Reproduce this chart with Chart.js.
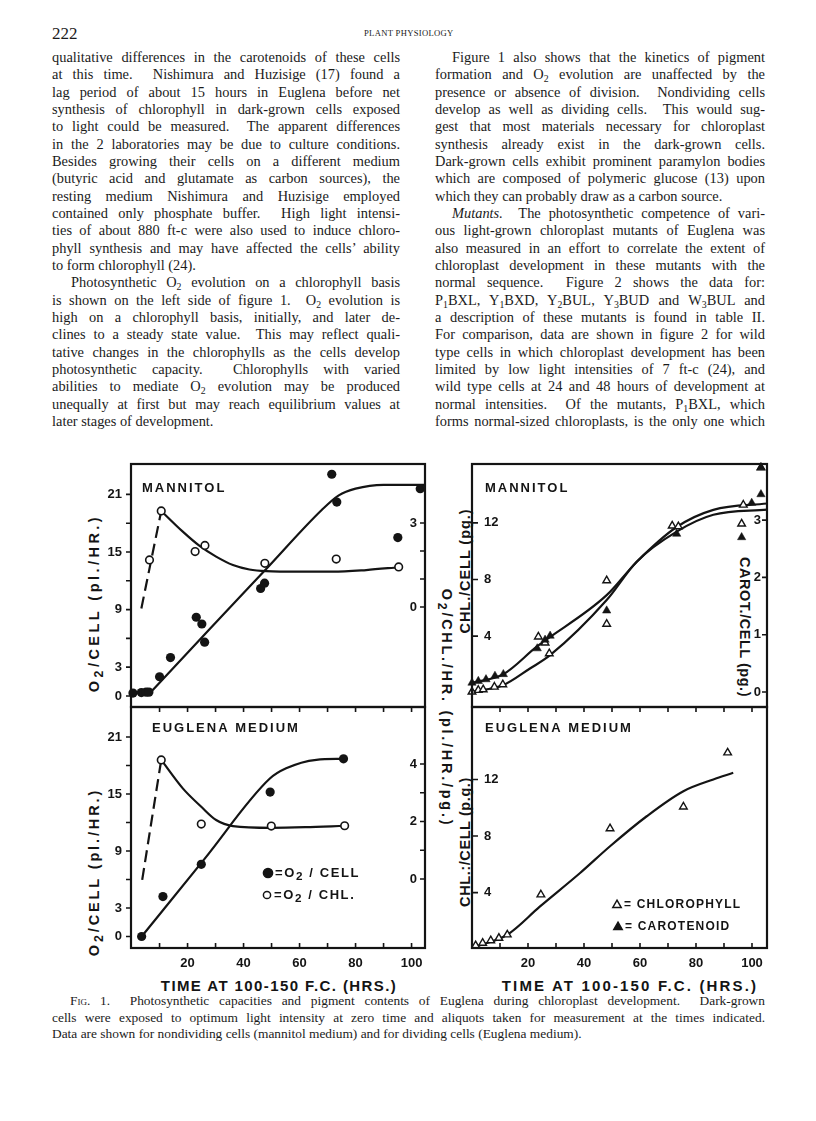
<!DOCTYPE html>
<html>
<head>
<meta charset="utf-8">
<script src="https://cdn.jsdelivr.net/npm/chart.js@4.4.1/dist/chart.umd.min.js"></script>
<style>
  html, body { margin: 0; padding: 0; background: #fff; }
  #page { position: relative; width: 816px; height: 1121px; overflow: hidden; color: #1b1b1b; }
  .ln { position: absolute; height: 18px; line-height: 18px; white-space: nowrap;
        font-family: "Liberation Serif", serif; font-size: 14.4px;
        text-align: justify; text-align-last: justify; }
  .ln.end { text-align-last: left; }
  .ln sub { font-size: 68%; line-height: 0; vertical-align: -0.3em; }
  .cap { font-size: 13.4px; }
  .sc { font-variant: small-caps; }
  .hd { position: absolute; font-family: "Liberation Serif", serif; white-space: nowrap; line-height: 1; }
  canvas { position: absolute; }
  .ttl { position: absolute; font-family: "Liberation Sans", sans-serif; font-weight: bold;
         font-size: 14.5px; white-space: nowrap; line-height: 1; color: #141414;
         transform: translate(-50%, -50%); }
  .ttl.up { transform: translate(-50%, -50%) rotate(-90deg); }
  .ttl.down { transform: translate(-50%, -50%) rotate(90deg); }
  .ttl sub { font-size: 85%; vertical-align: -0.35em; line-height: 0; }
</style>
</head>
<body>
<div id="page">
  <div class="hd" style="left:52px;top:25px;font-size:17px;">222</div>
  <div class="hd" data-w="90" style="left:364px;top:29px;font-size:8.6px;">PLANT PHYSIOLOGY</div>

  <div class="ttl up" data-w="178" style="left:94px;top:603px;">O<sub>2</sub>/CELL (pl./HR.)</div>
  <div class="ttl up" data-w="168" style="left:94px;top:872px;">O<sub>2</sub>/CELL (pl./HR.)</div>
  <div class="ttl down" data-w="238" style="left:447px;top:708px;">O<sub>2</sub>/CHL./HR. (pl./HR./pg.)</div>
  <div class="ttl up" data-w="125" style="left:465px;top:571px;">CHL./CELL (pg.)</div>
  <div class="ttl down" data-w="140" style="left:745px;top:627px;">CAROT./CELL (pg.)</div>
  <div class="ttl up" data-w="130" style="left:465px;top:842px;">CHL.:/CELL (p.g.)</div>
  <div class="ttl" data-w="236" style="left:279px;top:985px;font-size:15px;">TIME AT 100-150 F.C. (HRS.)</div>
  <div class="ttl" data-w="256" style="left:630px;top:985px;font-size:15px;">TIME AT 100-150 F.C. (HRS.)</div>

  <canvas id="tl"></canvas>
  <canvas id="bl"></canvas>
  <canvas id="tr"></canvas>
  <canvas id="br"></canvas>
</div>
<script>
// ----------- Data: O2 evolution, mannitol (nondividing) -----------
const mannCellHrs = [0.5, 3.5, 5.2, 6.2, 10, 13.9, 23.1, 25.1, 26.1, 46.1, 47.5, 71.5, 73.3, 95.1, 103.1];
const mannCellO2  = [0.3, 0.35, 0.4, 0.4, 2.0, 4.0, 8.2, 7.5, 5.6, 11.2, 11.75, 23.1, 20.2, 16.5, 21.6];
const mannCellFitHrs = [7.5, 28, 48, 68, 74, 80, 90, 104.8];
const mannCellFitO2  = [0.6, 7.0, 13.2, 19.4, 20.9, 21.6, 22.0, 22.0];
const mannChlHrs = [6.4, 10.6, 22.7, 26.2, 47.6, 73.1, 95.4];
const mannChlO2  = [1.68, 3.43, 1.98, 2.2, 1.56, 1.71, 1.43];
const mannChlRiseHrs = [3.5, 10.6];
const mannChlRiseO2  = [-0.05, 3.43];
const mannChlFitHrs = [10.6, 18.3, 24.3, 30.2, 36.2, 42.1, 48.1, 60, 71.9, 83.8, 95.4];
const mannChlFitO2  = [3.43, 2.69, 2.18, 1.80, 1.50, 1.34, 1.28, 1.26, 1.26, 1.32, 1.42];

// ----------- Data: O2 evolution, Euglena medium (dividing) -----------
const eugCellHrs = [3.6, 11.2, 24.9, 49.5, 75.7];
const eugCellO2  = [0, 4.2, 7.6, 15.2, 18.7];
const eugCellFitHrs = [3.6, 26, 49.3, 55.2, 66, 75.7];
const eugCellFitO2  = [0, 8.15, 16.6, 17.7, 18.6, 18.7];
const eugChlHrs = [10.6, 24.9, 49.9, 76.1];
const eugChlO2  = [4.14, 1.91, 1.84, 1.85];
const eugChlRiseHrs = [3.8, 10.6];
const eugChlRiseO2  = [-0.03, 4.14];
const eugChlFitHrs = [10.6, 18.3, 24.9, 30.2, 36.2, 49.9, 62, 76.1];
const eugChlFitO2  = [4.14, 3.15, 2.51, 2.05, 1.84, 1.78, 1.80, 1.85];

// ----------- Data: pigments, mannitol -----------
const mannPigChlHrs = [0, 2.25, 4.0, 8.0, 11.0, 23.7, 26.1, 27.6, 48.1, 48.1, 71.5, 73.7, 96.9, 96.3, 103.2];
const mannPigChl    = [0.06, 0.18, 0.22, 0.41, 0.58, 3.95, 3.53, 2.77, 7.92, 4.85, 11.79, 11.74, 13.27, 11.93, 15.9];
const mannPigCarHrs = [0, 2.25, 5.0, 8.2, 11.2, 23.3, 26.1, 27.9, 48.1, 73.1, 99.9, 103.2, 103.2, 96.3];
const mannPigCar    = [0.16, 0.19, 0.22, 0.28, 0.31, 0.76, 0.91, 0.98, 1.42, 2.76, 3.30, 3.45, 3.92, 2.70];
const mannChlCurveHrs = [0, 11.0, 20.7, 27.9, 48.1, 58.8, 73.1, 86.2, 105.4];
const mannChlCurve    = [0.06, 0.52, 1.71, 2.65, 6.55, 9.26, 11.38, 12.57, 12.93];
const mannCarCurveHrs = [0, 11.2, 23.1, 48.1, 58.8, 73.1, 86.2, 105.4];
const mannCarCurve    = [0.16, 0.31, 0.79, 1.69, 2.27, 2.88, 3.18, 3.29];

// ----------- Data: pigments, Euglena medium -----------
const eugPigHrs = [1.3, 3.8, 6.7, 9.6, 12.6, 24.6, 49.3, 75.5, 91.3];
const eugPigChl = [0.27, 0.44, 0.62, 0.79, 1.03, 3.86, 8.53, 10.07, 13.89];
const eugChlCurveHrs = [1.3, 12.6, 24.3, 38.6, 49.3, 62.4, 75.5, 86.2, 93.3];
const eugChlCurve    = [0.18, 1.03, 3.03, 5.39, 7.28, 9.4, 11.17, 12.0, 12.47];

// ----------- Ticks -----------
const hourTicks = [10, 20, 30, 40, 50, 60, 70, 80, 90, 100];
const hourLabels = [20, 40, 60, 80, 100];
const o2CellTicks = [0, 3, 6, 9, 12, 15, 18, 21];
const o2CellLabels = [0, 3, 9, 15, 21];
const mannO2ChlTicks = [0, 1, 2, 3];
const mannO2ChlLabels = [0, 3];
const eugO2ChlTicks = [0, 1, 2, 3, 4];
const eugO2ChlLabels = [0, 2, 4];
const chlTicks = [4, 8, 12];
const carTicks = [0, 1, 2, 3];

// ----------- Page text -----------
const leftCol = [
  'qualitative differences in the carotenoids of these cells',
  'at this time.&nbsp; Nishimura and Huzisige (17) found a',
  'lag period of about 15 hours in Euglena before net',
  'synthesis of chlorophyll in dark-grown cells exposed',
  'to light could be measured.&nbsp; The apparent differences',
  'in the 2 laboratories may be due to culture conditions.',
  'Besides growing their cells on a different medium',
  '(butyric acid and glutamate as carbon sources), the',
  'resting medium Nishimura and Huzisige employed',
  'contained only phosphate buffer.&nbsp; High light intensi-',
  'ties of about 880 ft-c were also used to induce chloro-',
  'phyll synthesis and may have affected the cells\u2019 ability',
  'to form chlorophyll (24).|',
  '>Photosynthetic O<sub>2</sub> evolution on a chlorophyll basis',
  'is shown on the left side of figure 1.&nbsp; O<sub>2</sub> evolution is',
  'high on a chlorophyll basis, initially, and later de-',
  'clines to a steady state value.&nbsp; This may reflect quali-',
  'tative changes in the chlorophylls as the cells develop',
  'photosynthetic capacity.&nbsp; Chlorophylls with varied',
  'abilities to mediate O<sub>2</sub> evolution may be produced',
  'unequally at first but may reach equilibrium values at',
  'later stages of development.|'
];
const rightCol = [
  '>Figure 1 also shows that the kinetics of pigment',
  'formation and O<sub>2</sub> evolution are unaffected by the',
  'presence or absence of division.&nbsp; Nondividing cells',
  'develop as well as dividing cells.&nbsp; This would sug-',
  'gest that most materials necessary for chloroplast',
  'synthesis already exist in the dark-grown cells.',
  'Dark-grown cells exhibit prominent paramylon bodies',
  'which are composed of polymeric glucose (13) upon',
  'which they can probably draw as a carbon source.|',
  '><i>Mutants.</i>&nbsp; The photosynthetic competence of vari-',
  'ous light-grown chloroplast mutants of Euglena was',
  'also measured in an effort to correlate the extent of',
  'chloroplast development in these mutants with the',
  'normal sequence.&nbsp; Figure 2 shows the data for:',
  'P<sub>1</sub>BXL, Y<sub>1</sub>BXD, Y<sub>2</sub>BUL, Y<sub>3</sub>BUD and W<sub>3</sub>BUL and',
  'a description of these mutants is found in table II.',
  'For comparison, data are shown in figure 2 for wild',
  'type cells in which chloroplast development has been',
  'limited by low light intensities of 7 ft-c (24), and',
  'wild type cells at 24 and 48 hours of development at',
  'normal intensities.&nbsp; Of the mutants, P<sub>1</sub>BXL, which',
  'forms normal-sized chloroplasts, is the only one which'
];
const caption = [
  '>F<span class="sc">ig</span>. 1.&nbsp; Photosynthetic capacities and pigment contents of Euglena during chloroplast development.&nbsp; Dark-grown',
  'cells were exposed to optimum light intensity at zero time and aliquots taken for measurement at the times indicated.',
  'Data are shown for nondividing cells (mannitol medium) and for dividing cells (Euglena medium).|'
];

const page = document.getElementById('page');
function layColumn(lines, x, w, y0, dy, extra, indent) {
  lines.forEach((raw, i) => {
    let s = raw, ind = 0, cls = 'ln' + (extra ? ' ' + extra : '');
    if (s.startsWith('>')) { s = s.slice(1); ind = indent; }
    if (s.endsWith('|')) { s = s.slice(0, -1); cls += ' end'; }
    const d = document.createElement('div');
    d.className = cls;
    d.innerHTML = s;
    d.style.left = (x + ind) + 'px';
    d.style.width = (w - ind) + 'px';
    d.style.top = (y0 + dy * i - 9) + 'px';
    page.appendChild(d);
  });
}
layColumn(leftCol, 52, 348, 57, 17.33, '', 19);
layColumn(rightCol, 435, 330, 57, 17.33, '', 17);
layColumn(caption, 52, 713, 1001, 16.5, 'cap', 18);

function fitText() {
  document.querySelectorAll('.ln').forEach(el => {
    const over = el.scrollWidth - el.clientWidth;
    if (over > 0) el.style.letterSpacing = (-(over + 1) / el.textContent.length) + 'px';
  });
  document.querySelectorAll('[data-w]').forEach(el => {
    const target = +el.dataset.w;
    const n = el.textContent.length;
    el.style.letterSpacing = ((target - el.offsetWidth) / n) + 'px';
  });
}

// ----------- Charts (Chart.js) -----------
const INK = '#141414';
Chart.defaults.font.family = '"Liberation Sans", Arial, sans-serif';
Chart.defaults.font.weight = 'bold';
Chart.defaults.font.size = 13;
Chart.defaults.color = INK;

const pts = (xs, ys) => xs.map((x, i) => ({ x, y: ys[i] }));
const markStyles = {
  dot:     { pointStyle: 'circle',   pointRadius: 4.6, backgroundColor: INK, borderColor: INK, borderWidth: 0 },
  ring:    { pointStyle: 'circle',   pointRadius: 3.8, backgroundColor: '#fff', borderColor: INK, borderWidth: 1.6 },
  tri:     { pointStyle: 'triangle', pointRadius: 4.4, backgroundColor: '#fff', borderColor: INK, borderWidth: 1.4 },
  triFill: { pointStyle: 'triangle', pointRadius: 4.8, backgroundColor: INK, borderColor: INK, borderWidth: 0.5 }
};
const marks = (xs, ys, axis, style) => Object.assign(
  { type: 'scatter', data: pts(xs, ys), yAxisID: axis, clip: 10 }, markStyles[style]);
const curve = (xs, ys, axis, dash) => ({
  type: 'line', data: pts(xs, ys), yAxisID: axis, borderColor: INK, borderWidth: 2.2,
  borderDash: dash || [], pointRadius: 0, cubicInterpolationMode: 'monotone', fill: false, clip: 4
});

function drawMark(ctx, kind, x, y) {
  ctx.save();
  ctx.lineWidth = 1.5;
  ctx.beginPath();
  if (kind === 'dot' || kind === 'ring') {
    ctx.arc(x, y, kind === 'dot' ? 4.6 : 3.6, 0, Math.PI * 2);
  } else {
    const r = 4.8;
    ctx.moveTo(x, y - r);
    ctx.lineTo(x + r * 0.87, y + r * 0.5);
    ctx.lineTo(x - r * 0.87, y + r * 0.5);
    ctx.closePath();
  }
  if (kind === 'dot' || kind === 'triFill') { ctx.fill(); ctx.stroke(); }
  else { ctx.fillStyle = '#fff'; ctx.fill(); ctx.stroke(); }
  ctx.restore();
}

const frameTicks = {
  id: 'frameTicks',
  afterDatasetsDraw(chart, args, o) {
    const { ctx, chartArea: a, scales } = chart;
    const L = 5;
    ctx.save();
    ctx.strokeStyle = INK;
    ctx.fillStyle = INK;
    ctx.lineWidth = 2.2;
    ctx.strokeRect(a.left, a.top, a.right - a.left, a.bottom - a.top);
    ctx.lineWidth = 1.6;
    ctx.beginPath();
    (o.xTop || []).forEach(v => { const p = scales.x.getPixelForValue(v); ctx.moveTo(p, a.top); ctx.lineTo(p, a.top + L); });
    (o.xBottom || []).forEach(v => { const p = scales.x.getPixelForValue(v); ctx.moveTo(p, a.bottom); ctx.lineTo(p, a.bottom - L); });
    (o.yOut || []).forEach(v => { const p = scales.y.getPixelForValue(v); ctx.moveTo(a.left, p); ctx.lineTo(a.left - L, p); });
    (o.yIn || []).forEach(v => { const p = scales.y.getPixelForValue(v); ctx.moveTo(a.left, p); ctx.lineTo(a.left + L + 1, p); });
    (o.y2In || []).forEach(v => { const p = scales.y2.getPixelForValue(v); ctx.moveTo(a.right, p); ctx.lineTo(a.right - L, p); });
    ctx.stroke();
    ctx.textBaseline = 'middle';
    (o.labels || []).forEach(t => {
      let x = a.left + t.dx;
      const y = a.top + t.dy;
      if (t.mark) { drawMark(ctx, t.mark, x, y); x += 7; }
      t.parts.forEach(([s, sub]) => {
        ctx.font = 'bold ' + (sub ? t.size * 0.9 : t.size) + 'px "Liberation Sans", Arial, sans-serif';
        ctx.letterSpacing = (t.ls || 0) + 'px';
        ctx.fillText(s, x, sub ? y + 4 : y);
        x += ctx.measureText(s).width;
      });
    });
    ctx.restore();
  }
};

function linAxis(min, max, labels, tickOpts, extra) {
  const ax = {
    type: 'linear', min, max,
    grid: { display: false, drawTicks: false },
    border: { display: false },
    ticks: Object.assign({ autoSkip: false, maxRotation: 0, padding: 8, font: { size: 13, weight: 'bold' } }, tickOpts)
  };
  if (labels) ax.afterBuildTicks = s => { s.ticks = labels.map(v => ({ value: v })); };
  return Object.assign(ax, extra);
}

function makePanel(id, area, pad, scales, datasets, frame) {
  const cv = document.getElementById(id);
  const w = area.r - area.l + pad.l + pad.r;
  const h = area.b - area.t + pad.t + pad.b;
  cv.width = w; cv.height = h;
  cv.style.width = w + 'px'; cv.style.height = h + 'px';
  cv.style.left = (area.l - pad.l) + 'px';
  cv.style.top = (area.t - pad.t) + 'px';
  const zero = s => { s.paddingTop = 0; s.paddingBottom = 0; s.paddingLeft = 0; s.paddingRight = 0; };
  scales.x.afterFit = s => { s.height = pad.b; zero(s); };
  scales.y.afterFit = s => { s.width = pad.l; zero(s); };
  if (scales.y2) scales.y2.afterFit = s => { s.width = pad.r; zero(s); };
  return new Chart(cv, {
    type: 'scatter',
    data: { datasets },
    options: {
      responsive: false, animation: false, devicePixelRatio: 1,
      layout: { padding: { top: pad.t, right: scales.y2 ? 0 : pad.r, left: 0, bottom: 0 } },
      plugins: { legend: { display: false }, tooltip: { enabled: false }, frameTicks: frame },
      scales
    },
    plugins: [frameTicks]
  });
}

function build() {
  fitText();

  // top left: O2, mannitol
  makePanel('tl', { l: 131, t: 464, r: 425, b: 707 }, { l: 40, r: 12, t: 8, b: 8 }, {
    x: linAxis(-0.2, 104.8, null, { display: false }),
    y: linAxis(-1.15, 24.17, o2CellLabels, { padding: 9 }, { position: 'left' }),
    y2: linAxis(-3.571, 5.107, mannO2ChlLabels, { mirror: true, padding: -8 }, { position: 'right' })
  }, [
    marks(mannCellHrs, mannCellO2, 'y', 'dot'),
    marks(mannChlHrs, mannChlO2, 'y2', 'ring'),
    curve(mannCellFitHrs, mannCellFitO2, 'y'),
    curve(mannChlFitHrs, mannChlFitO2, 'y2'),
    curve(mannChlRiseHrs, mannChlRiseO2, 'y2', [12, 6])
  ], {
    yOut: o2CellTicks, y2In: mannO2ChlTicks,
    labels: [{ dx: 11, dy: 24, size: 13, ls: 2, parts: [['MANNITOL', false]] }]
  });

  // bottom left: O2, Euglena medium
  makePanel('bl', { l: 131, t: 707, r: 425, b: 948 }, { l: 40, r: 12, t: 8, b: 30 }, {
    x: linAxis(-0.2, 104.8, hourLabels, { padding: 8 }),
    y: linAxis(-1.21, 24.16, o2CellLabels, { padding: 9 }, { position: 'left' }),
    y2: linAxis(-2.40, 5.98, eugO2ChlLabels, { mirror: true, padding: -8 }, { position: 'right' })
  }, [
    marks(eugCellHrs, eugCellO2, 'y', 'dot'),
    marks(eugChlHrs, eugChlO2, 'y2', 'ring'),
    curve(eugCellFitHrs, eugCellFitO2, 'y'),
    curve(eugChlFitHrs, eugChlFitO2, 'y2'),
    curve(eugChlRiseHrs, eugChlRiseO2, 'y2', [12, 6])
  ], {
    xTop: hourTicks, xBottom: hourTicks, yOut: o2CellTicks, y2In: eugO2ChlTicks,
    labels: [
      { dx: 21, dy: 21, size: 13, ls: 2, parts: [['EUGLENA MEDIUM', false]] },
      { dx: 137, dy: 166, size: 13, ls: 1.6, mark: 'dot', parts: [['=O', false], ['2', true], [' / CELL', false]] },
      { dx: 136, dy: 188, size: 13, ls: 1.6, mark: 'ring', parts: [['=O', false], ['2', true], [' / CHL.', false]] }
    ]
  });

  // top right: pigments, mannitol
  makePanel('tr', { l: 472, t: 464, r: 767, b: 707 }, { l: 10, r: 12, t: 8, b: 8 }, {
    x: linAxis(0, 105.36, null, { display: false }),
    y: linAxis(-1.01, 16.16, chlTicks, { mirror: true, padding: 12 }, { position: 'left' }),
    y2: linAxis(-0.262, 3.98, carTicks, { mirror: true, padding: -6 }, { position: 'right' })
  }, [
    marks(mannPigCarHrs, mannPigCar, 'y2', 'triFill'),
    marks(mannPigChlHrs, mannPigChl, 'y', 'tri'),
    curve(mannChlCurveHrs, mannChlCurve, 'y'),
    curve(mannCarCurveHrs, mannCarCurve, 'y2')
  ], {
    yIn: chlTicks, y2In: carTicks,
    labels: [{ dx: 13, dy: 24, size: 13, ls: 2, parts: [['MANNITOL', false]] }]
  });

  // bottom right: pigments, Euglena medium
  makePanel('br', { l: 472, t: 707, r: 767, b: 948 }, { l: 10, r: 12, t: 8, b: 30 }, {
    x: linAxis(0, 105.36, hourLabels, { padding: 8 }),
    y: linAxis(0.09, 17.12, chlTicks, { mirror: true, padding: 12 }, { position: 'left' })
  }, [
    marks(eugPigHrs, eugPigChl, 'y', 'tri'),
    curve(eugChlCurveHrs, eugChlCurve, 'y')
  ], {
    xTop: hourTicks, xBottom: hourTicks, yIn: chlTicks,
    labels: [
      { dx: 13, dy: 21, size: 13, ls: 2, parts: [['EUGLENA MEDIUM', false]] },
      { dx: 145, dy: 198, size: 12, ls: 1.2, mark: 'tri', parts: [['= CHLOROPHYLL', false]] },
      { dx: 146, dy: 220, size: 12, ls: 1.2, mark: 'triFill', parts: [['= CAROTENOID', false]] }
    ]
  });
}

if (document.fonts && document.fonts.ready) document.fonts.ready.then(build);
else window.addEventListener('load', build);
</script>
</body>
</html>
